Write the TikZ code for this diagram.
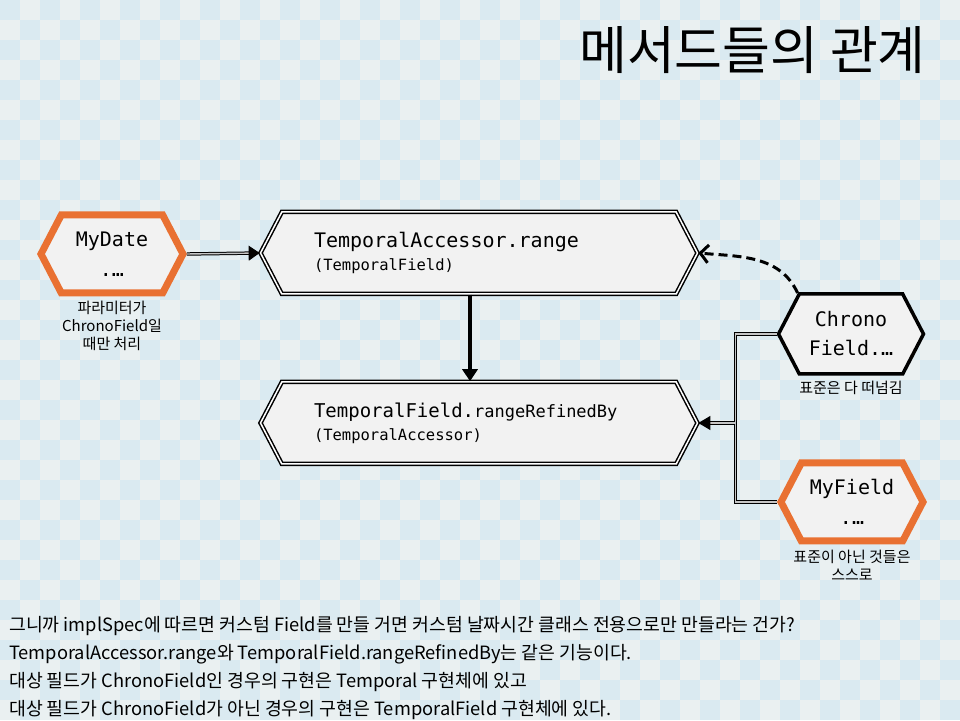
\documentclass[tikz,border=0pt]{standalone}
\usepackage{fontspec}
\setmainfont{Noto Sans CJK KR}
\newfontfamily\codefont{DejaVu Sans Mono}
\usetikzlibrary{shapes.symbols,arrows.meta,positioning,calc}
\definecolor{tileblue}{HTML}{DAEAF1}
\definecolor{tilegray}{HTML}{EAF0F1}
\definecolor{boxfill}{HTML}{F2F2F2}
\definecolor{ownorange}{HTML}{E97132}

\tikzset{
  hexa/.style={signal, signal to=west and east, signal pointer angle=125,
    fill=boxfill, inner sep=0pt},
  ownbox/.style={hexa, draw=ownorange, line width=7pt, minimum width=142pt,
    minimum height=78pt, align=center, font=\codefont\fontsize{20}{30}\selectfont},
  stdbox/.style={hexa, draw, line width=3.5pt, minimum width=145pt,
    minimum height=80pt, align=center, font=\codefont\fontsize{20}{29}\selectfont},
  methodbox/.style={hexa, draw, line width=1.5pt, double=white, double distance=1.5pt,
    minimum width=437pt, minimum height=82pt, text width=330pt, align=left,
    font=\codefont\fontsize{15.5}{23}\selectfont},
  note/.style={align=center, inner sep=0pt, font=\fontsize{15}{18}\selectfont},
  link/.style={line width=1pt, double=gray!45, double distance=1.4pt},
}

\begin{document}
\begin{tikzpicture}[x=1pt, y=1pt]
  \fill[tilegray] (0,0) rectangle (960,720);
  \foreach \i in {0,...,47} {
    \pgfmathtruncatemacro\off{mod(\i,2)}
    \foreach \k in {0,...,17}
      \fill[tileblue] (20*\i, 700-20*\off-40*\k) rectangle ++(20,20);
  }
  \useasboundingbox (0,0) rectangle (960,720);

  \node[anchor=east, inner sep=0pt, font=\fontsize{52}{56}\selectfont] (title) at (926,670) {메서드들의 관계};

  \node[ownbox] (mydate) at (112,466) {MyDate\\.…};
  \node[methodbox] (range) at (479,467) {{\fontsize{20}{24}\selectfont TemporalAccessor.range}\\(TemporalField)};
  \node[methodbox] (refined) at (479,297) {{\fontsize{19}{24}\selectfont TemporalField.}{\fontsize{17}{24}\selectfont rangeRefinedBy}\\(TemporalAccessor)};
  \node[stdbox] (chrono) at (851,386) {Chrono\\Field.…};
  \node[ownbox] (myfield) at (852,218) {MyField\\.…};

  \node[note, below=4pt of mydate] (mydatenote) {파라미터가\\ChronoField일\\때만 처리};
  \node[note, below=5pt of chrono] (chrononote) {표준은 다 떠넘김};
  \node[note, below=5pt of myfield] (myfieldnote) {표준이 아닌 것들은\\스스로};

  \draw[link, -{Triangle[length=11pt,width=15pt]}] (mydate.east) -- (range.west);
  \draw[line width=3.5pt, -{Triangle[length=12pt,width=15pt]}] ([xshift=-9pt]range.south) -- ([xshift=-9pt]refined.north);
  \draw[line width=3pt, dash pattern=on 9pt off 5pt, -{Straight Barb[length=8pt,width=18pt]}] (chrono.north west) to[out=115, in=-5] (range.east);
  \coordinate (merge) at ([xshift=37pt]refined.east);
  \draw[link] (chrono.west) -| (merge) |- (myfield.west);
  \draw[link, -{Triangle[length=12pt,width=14pt]}] (merge) -- (refined.east);

  \node[anchor=north west, align=left, inner sep=0pt, font=\fontsize{18.3}{28}\selectfont] (summary) at (9,104) {그니까 implSpec에 따르면 커스텀 Field를 만들 거면 커스텀 날짜시간 클래스 전용으로만 만들라는 건가?\\TemporalAccessor.range와 TemporalField.rangeRefinedBy는 같은 기능이다.\\대상 필드가 ChronoField인 경우의 구현은 Temporal 구현체에 있고\\대상 필드가 ChronoField가 아닌 경우의 구현은 TemporalField 구현체에 있다.};
\end{tikzpicture}
\end{document}
